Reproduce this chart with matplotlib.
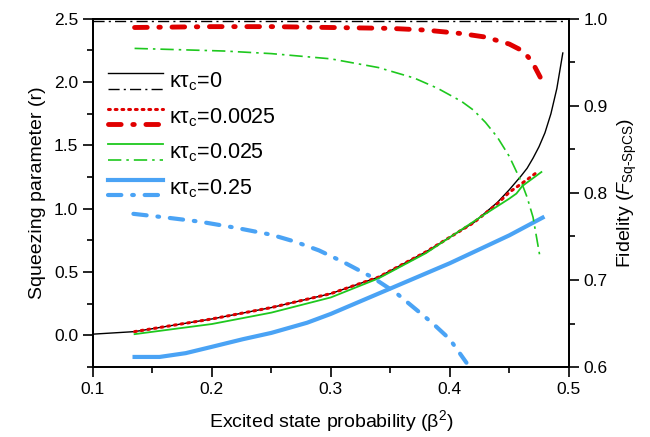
import numpy as np
import matplotlib
matplotlib.use("Agg")
import matplotlib.pyplot as plt
from matplotlib.lines import Line2D
from matplotlib.legend_handler import HandlerBase
from matplotlib.ticker import MultipleLocator, FormatStrFormatter

plt.rcParams['font.family'] = ['Liberation Sans', 'DejaVu Sans']
plt.rcParams['mathtext.fontset'] = 'custom'
plt.rcParams['mathtext.rm'] = 'Liberation Sans'
plt.rcParams['mathtext.it'] = 'Liberation Sans:italic'
plt.rcParams['mathtext.sf'] = 'Liberation Sans'

# -----------------------------
# Squeezing parameter r (left axis)
# -----------------------------
x_k0 = [0.10, 0.135, 0.20, 0.25, 0.30, 0.34, 0.38, 0.42, 0.44, 0.45, 0.46, 0.465,
        0.47, 0.475, 0.48, 0.485, 0.49, 0.495]
r_k0 = [0.01, 0.03, 0.13, 0.22, 0.33, 0.46, 0.66, 0.89, 1.05, 1.15, 1.26, 1.32,
        1.40, 1.49, 1.60, 1.75, 1.95, 2.23]

x_k1 = [0.135, 0.20, 0.25, 0.30, 0.34, 0.38, 0.42, 0.44, 0.45, 0.465, 0.475]
r_k1 = [0.03, 0.13, 0.22, 0.33, 0.46, 0.66, 0.89, 1.04, 1.13, 1.23, 1.30]

x_k2 = [0.135, 0.20, 0.25, 0.30, 0.34, 0.38, 0.425, 0.45, 0.456, 0.461, 0.477]
r_k2 = [0.01, 0.09, 0.18, 0.30, 0.45, 0.65, 0.93, 1.08, 1.12, 1.18, 1.29]

x_k3 = [0.135, 0.156, 0.178, 0.20, 0.226, 0.25, 0.28, 0.30, 0.35, 0.40, 0.425, 0.45, 0.478]
r_k3 = [-0.17, -0.17, -0.14, -0.09, -0.03, 0.02, 0.10, 0.17, 0.37, 0.57, 0.68, 0.79, 0.93]

# -----------------------------
# Fidelity (right axis)
# -----------------------------
xf_k0 = [0.10, 0.20, 0.30, 0.40, 0.495]
f_k0 = [0.997, 0.997, 0.997, 0.997, 0.997]

xf_k1 = [0.135, 0.20, 0.25, 0.30, 0.35, 0.38, 0.41, 0.43, 0.44, 0.45, 0.46, 0.466, 0.471, 0.476]
f_k1 = [0.990, 0.991, 0.991, 0.990, 0.989, 0.987, 0.983, 0.979, 0.975, 0.971, 0.964, 0.956, 0.946, 0.933]

xf_k2 = [0.135, 0.21, 0.25, 0.30, 0.34, 0.37, 0.39, 0.41, 0.42, 0.43, 0.44, 0.45, 0.46,
         0.465, 0.47, 0.476]
f_k2 = [0.966, 0.963, 0.960, 0.954, 0.944, 0.932, 0.920, 0.905, 0.895, 0.881, 0.864, 0.842, 0.813,
        0.795, 0.772, 0.725]

xf_k3 = [0.134, 0.16, 0.19, 0.22, 0.25, 0.27, 0.29, 0.31, 0.335, 0.355, 0.37, 0.385, 0.40, 0.414]
f_k3 = [0.776, 0.772, 0.767, 0.760, 0.752, 0.744, 0.734, 0.721, 0.703, 0.685, 0.668, 0.651, 0.632, 0.605]

labels = [r'$\mathrm{\kappa\tau_c}$=0', r'$\mathrm{\kappa\tau_c}$=0.0025',
          r'$\mathrm{\kappa\tau_c}$=0.025', r'$\mathrm{\kappa\tau_c}$=0.25']

black = 'black'
red = '#e00000'
green = '#1ec81e'
blue = '#4aa3f5'


class TwoLineHandler(HandlerBase):
    # draws the solid (r) line above the dash-dot (fidelity) line
    def create_artists(self, legend, orig_handle, xdescent, ydescent,
                       width, height, fontsize, trans):
        out = []
        for h, frac in ((orig_handle[0], 0.85), (orig_handle[1], 0.05)):
            ln = Line2D([-xdescent, -xdescent + width],
                        [-ydescent + frac * height] * 2)
            ln.update_from(h)
            ln.set_transform(trans)
            out.append(ln)
        return out


fig = plt.figure(figsize=(6.5, 4.37), dpi=100)
ax = fig.add_axes([0.143, 0.160, 0.732, 0.797])
ax2 = ax.twinx()

l0, = ax.plot(x_k0, r_k0, color=black, lw=1.0)
l1, = ax.plot(x_k1, r_k1, color=red, lw=2.2, ls=(0, (0.6, 1.6)), dash_capstyle='round')
l2, = ax.plot(x_k2, r_k2, color=green, lw=1.3)
l3, = ax.plot(x_k3, r_k3, color=blue, lw=3.0)

f0, = ax2.plot(xf_k0, f_k0, color=black, lw=1.0, ls=(0, (8, 3, 1.5, 3)))
f1, = ax2.plot(xf_k1, f_k1, color=red, lw=3.5, ls=(0, (2.6, 2.4, 0.3, 2.4)),
               dash_capstyle='round')
f2, = ax2.plot(xf_k2, f_k2, color=green, lw=1.2, ls=(0, (8, 3, 1.5, 3)))
f3, = ax2.plot(xf_k3, f_k3, color=blue, lw=3.0, ls=(0, (3.2, 2.6, 0.4, 2.6)),
               dash_capstyle='round')

ax.set_xlim(0.1, 0.5)
ax.set_ylim(-0.25, 2.5)
ax2.set_ylim(0.6, 1.0)

ax.xaxis.set_major_locator(MultipleLocator(0.1))
ax.xaxis.set_minor_locator(MultipleLocator(0.05))
ax.yaxis.set_major_locator(MultipleLocator(0.5))
ax.yaxis.set_minor_locator(MultipleLocator(0.25))
ax2.yaxis.set_major_locator(MultipleLocator(0.1))
ax2.yaxis.set_minor_locator(MultipleLocator(0.05))
ax.xaxis.set_major_formatter(FormatStrFormatter('%.1f'))
ax.yaxis.set_major_formatter(FormatStrFormatter('%.1f'))
ax2.yaxis.set_major_formatter(FormatStrFormatter('%.1f'))

for a in (ax, ax2):
    a.tick_params(which='major', direction='out', length=7, width=1.2, labelsize=12.5)
    a.tick_params(which='minor', direction='out', length=4, width=1.2)
    for s in a.spines.values():
        s.set_linewidth(1.3)

ax.set_xlabel(r'Excited state probability ($\mathrm{\beta}^2$)', fontsize=14, labelpad=8)
ax.set_ylabel('Squeezing parameter (r)', fontsize=14, labelpad=6)
ax2.set_ylabel(r'Fidelity ($\mathit{F}_{\mathrm{Sq\text{-}SpCS}}$)', fontsize=14, labelpad=6)

ax.legend([(l0, f0), (l1, f1), (l2, f2), (l3, f3)], labels,
          handler_map={tuple: TwoLineHandler()},
          loc='upper left', bbox_to_anchor=(0.0, 0.895), frameon=False,
          fontsize=15.5, handlelength=2.55, handleheight=1.0, labelspacing=0.6,
          handletextpad=0.3, borderaxespad=0.3)

fig.savefig('out.png', dpi=100)
